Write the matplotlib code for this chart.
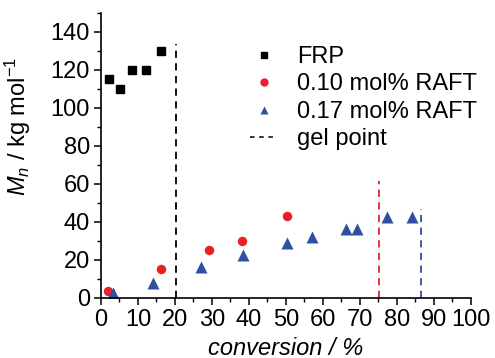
import matplotlib
matplotlib.use("Agg")
import matplotlib.pyplot as plt
from matplotlib.ticker import MultipleLocator
from matplotlib.lines import Line2D

plt.rcParams['font.family'] = ['Liberation Sans', 'DejaVu Sans']
plt.rcParams['mathtext.fontset'] = 'custom'
plt.rcParams['mathtext.it'] = 'Liberation Sans:italic'
plt.rcParams['mathtext.rm'] = 'Liberation Sans'

frp_x = [2.2, 5.1, 8.3, 12.2, 16.1]
frp_y = [115, 110, 120, 120, 130]
r10_x = [2.0, 16.2, 29.2, 38.2, 50.3]
r10_y = [3.5, 15, 25, 30, 43]
r17_x = [3.3, 14.1, 27.1, 38.3, 50.3, 57.1, 66.1, 69.1, 77.2, 84.1]
r17_y = [2.5, 8, 16, 22.5, 29, 31.8, 36, 36.5, 42.6, 42.6]
gel_x = [20.4, 75.2, 86.6]
gel_top = [133.5, 61.5, 47]
gel_colors = ['black', '#e8202a', '#2f4f9f']

FS = 17

fig = plt.figure(figsize=(4.95, 3.58), dpi=100)
ax = fig.add_axes([0.204, 0.168, 0.7475, 0.796])

ax.plot(frp_x, frp_y, 's', color='black', ms=6.2, ls='none')
ax.plot(r10_x, r10_y, 'o', color='#e8202a', ms=6.8, ls='none', mec='none')
ax.plot(r17_x, r17_y, '^', color='#2f4f9f', ms=8.5, ls='none', mec='none')
for gx, gt, gc in zip(gel_x, gel_top, gel_colors):
    ax.plot([gx, gx], [0, gt], ls=(0, (4, 3)), color=gc, lw=1.3)

ax.set_xlim(0, 100)
ax.set_ylim(0, 150)
ax.xaxis.set_major_locator(MultipleLocator(10))
ax.xaxis.set_minor_locator(MultipleLocator(5))
ax.yaxis.set_minor_locator(MultipleLocator(10))
ax.set_yticks(range(0, 141, 20))
for s in ['top', 'right']:
    ax.spines[s].set_visible(False)
ax.spines['left'].set_linewidth(1.2)
ax.spines['bottom'].set_linewidth(1.2)
ax.tick_params(which='major', direction='out', length=5, width=1.1, labelsize=FS, pad=3)
ax.tick_params(which='minor', direction='out', length=3, width=1.0)

ax.set_xlabel('conversion / %', fontsize=FS, style='italic', labelpad=4)
ax.set_ylabel('$M_n$ / kg mol$^{-1}$', fontsize=FS)
ax.yaxis.set_label_coords(-0.184, 0.6)

handles = [
    Line2D([], [], marker='s', color='black', ls='none', ms=5),
    Line2D([], [], marker='o', color='#e8202a', mec='none', ls='none', ms=6),
    Line2D([], [], marker='^', color='#2f4f9f', mec='none', ls='none', ms=6),
    Line2D([], [], color='black', ls=(0, (3, 3)), lw=1.1),
]
labels = ['FRP', '0.10 mol% RAFT', '0.17 mol% RAFT', 'gel point']
fig.legend(handles, labels, loc='upper left', bbox_to_anchor=(250 / 495, 1 - 46 / 358),
           frameon=False, fontsize=FS, handlelength=1.15, handletextpad=0.85,
           labelspacing=0.23, borderpad=0, borderaxespad=0)

fig.savefig('out.png', dpi=100)
